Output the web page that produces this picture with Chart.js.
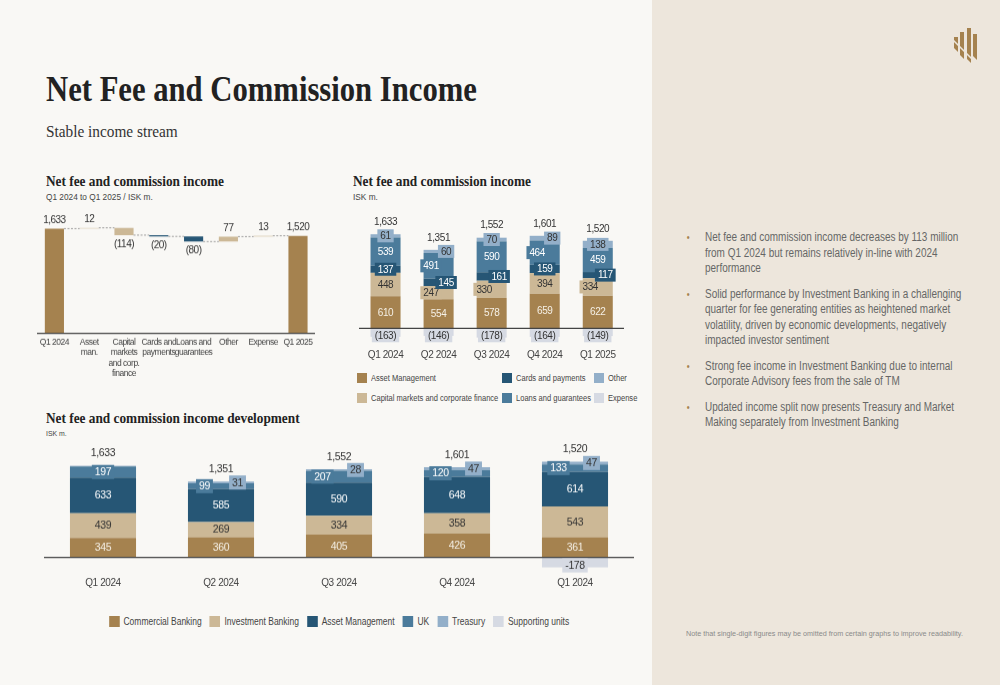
<!DOCTYPE html>
<html>
<head>
<meta charset="utf-8">
<script src="https://cdn.jsdelivr.net/npm/chart.js@4.4.1/dist/chart.umd.min.js"></script>
<style>
  body { margin: 0; width: 1000px; height: 685px; overflow: hidden; position: relative;
         background: #f9f8f5; font-family: "Liberation Sans", sans-serif; color: #444; }
  .panel { position: absolute; left: 652px; top: 0; width: 348px; height: 685px; background: #ede6dc; }
  .abs { position: absolute; }
  .serif { position: absolute; font-family: "Liberation Serif", serif; color: #222; white-space: nowrap; transform-origin: left top; }
  .small { position: absolute; font-size: 9px; color: #444; white-space: nowrap; transform-origin: left top; transform: scaleX(0.92); }
  .box { position: absolute; }
  .legend { position: absolute; font-size: 9.2px; color: #444; }
  .legend .item { position: absolute; white-space: nowrap; display: flex; align-items: center; }
  .legend .sw { width: 10px; height: 10px; margin-right: 4px; display: inline-block; }
  .legend .tx { display: inline-block; transform: scaleX(0.82); transform-origin: left center; }
  .legend2 { position: absolute; left: 44px; width: 590px; top: 616px; display: flex; justify-content: center;
             font-size: 10.4px; color: #444; transform: scaleX(0.815); transform-origin: center top; }
  .legend2 .item { display: flex; align-items: center; margin: 0 5px; white-space: nowrap; }
  .legend2 .sw { width: 13px; height: 11px; margin-right: 5px; display: inline-block; }
  .bullets { position: absolute; left: 705px; top: 230px; font-size: 12px; line-height: 15.5px; color: #666;
             white-space: nowrap; transform: scaleX(0.83); transform-origin: left top; }
  .bullets p { margin: 0 0 10px 0; position: relative; }
  .bullets p::before { content: "•"; position: absolute; left: -22px; color: #a5824f; font-size: 10px; }
  .note { position: absolute; left: 686px; top: 629px; font-size: 7.6px; color: #8a8a8a; white-space: nowrap;
          transform: scaleX(0.95); transform-origin: left top; }
</style>
</head>
<body>
<div class="panel"></div>

<svg class="abs" style="left:949px;top:24px" width="36" height="44" viewBox="0 0 36 44">
  <g fill="#a5824f">
    <polygon points="5,13 9,13 9,28 5,24"/>
    <polygon points="11,8 15,8 15,35 11,31"/>
    <polygon points="18,4 22,4 22,39 18,35"/>
    <polygon points="24,10 28,10 28,36 24,32"/>
  </g>
  <line x1="4" y1="16" x2="28" y2="40" stroke="#ede6dc" stroke-width="1.6"/>
</svg>

<div class="serif" style="left:46px;top:70px;font-size:35px;font-weight:bold;transform:scaleX(0.876)">Net Fee and Commission Income</div>
<div class="serif" style="left:46px;top:122px;font-size:17px;color:#333;transform:scaleX(0.9)">Stable income stream</div>

<div class="serif" style="left:46px;top:173px;font-size:15px;font-weight:bold;transform:scaleX(0.886)">Net fee and commission income</div>
<div class="small" style="left:46px;top:192px">Q1 2024 to Q1 2025 / ISK m.</div>

<div class="serif" style="left:353px;top:173px;font-size:15px;font-weight:bold;transform:scaleX(0.886)">Net fee and commission income</div>
<div class="small" style="left:353px;top:192px">ISK m.</div>

<div class="serif" style="left:46px;top:410px;font-size:15px;font-weight:bold;transform:scaleX(0.886)">Net fee and commission income development</div>
<div class="small" style="left:46px;top:429px;font-size:7.5px">ISK m.</div>

<div class="box" style="left:36.8px;top:205px;width:278.4px;height:179.7px"><canvas id="wf"></canvas></div>
<div class="box" style="left:359.2px;top:212.7px;width:265.3px;height:155px"><canvas id="mid"></canvas></div>
<div class="legend" id="midLegend" style="left:357px;top:373px;width:290px;height:34px"></div>
<div class="box" style="left:44px;top:439.4px;width:590px;height:154.4px"><canvas id="dev"></canvas></div>
<div class="legend2" id="devLegend"></div>

<div class="bullets">
  <p>Net fee and commission income decreases by 113 million<br>from Q1 2024 but remains relatively in-line with 2024<br>performance</p>
  <p>Solid performance by Investment Banking in a challenging<br>quarter for fee generating entities as heightened market<br>volatility, driven by economic developments, negatively<br>impacted investor sentiment</p>
  <p>Strong fee income in Investment Banking due to internal<br>Corporate Advisory fees from the sale of TM</p>
  <p>Updated income split now presents Treasury and Market<br>Making separately from Investment Banking</p>
</div>
<div class="note">Note that single-digit figures may be omitted from certain graphs to improve readability.</div>

<script>
Chart.defaults.font.family = '"Liberation Sans", sans-serif';
Chart.defaults.color = '#444';

// colours
const cBrown = '#a5824f';
const cTan = '#ccb896';
const cLightTan = '#e2d5bf';
const cNavy = '#265675';
const cSteel = '#4b7b9b';
const cSky = '#93afc9';
const cGrey = '#d6dae3';

// --- waterfall data
const wfCategories = [['Q1 2024'], ['Asset', 'man.'], ['Capital', 'markets', 'and corp.', 'finance'],
  ['Cards and', 'payments'], ['Loans and', 'guarantees'], ['Other'], ['Expense'], ['Q1 2025']];
const wfValues = [1633, 12, -114, -20, -80, 77, 13, 1520];
const wfIsTotal = [true, false, false, false, false, false, false, true];
const wfColors = [cBrown, cLightTan, cTan, cNavy, cNavy, cTan, cLightTan, cBrown];

// --- quarterly split by product
const quarters = ['Q1 2024', 'Q2 2024', 'Q3 2024', 'Q4 2024', 'Q1 2025'];
const assetMgmt = [610, 554, 578, 659, 622];
const capMarkets = [448, 247, 330, 394, 334];
const cardsPay = [137, 145, 161, 159, 117];
const loansGuar = [539, 491, 590, 464, 459];
const otherFees = [61, 60, 70, 89, 138];
const expense = [-163, -146, -178, -164, -149];
const midTotals = [1633, 1351, 1552, 1601, 1520];

// --- development by segment
const devQuarters = ['Q1 2024', 'Q2 2024', 'Q3 2024', 'Q4 2024', 'Q1 2024'];
const commercial = [345, 360, 405, 426, 361];
const investment = [439, 269, 334, 358, 543];
const devAssetMgmt = [633, 585, 590, 648, 614];
const ukFees = [197, 99, 207, 120, 133];
const treasury = [9, 31, 28, 47, 47];
const supporting = [9, 7, -9, 2, -178];
const devTotals = [1633, 1351, 1552, 1601, 1520];

const fmtNum = v => v.toLocaleString('en-US');

// narrower lettering, the original face is a condensed sans
function tightText(px) {
  return {
    id: 'tightText',
    beforeDraw(chart) { chart.ctx.letterSpacing = px; }
  };
}

// x axis with fixed height so the plot area lands where we want it
function xAxis(h, size, pad) {
  return {
    grid: { display: false, drawTicks: false }, border: { display: false },
    ticks: { font: { size: size, lineHeight: 1.2 }, color: '#444', padding: pad,
             maxRotation: 0, minRotation: 0, autoSkip: false },
    afterFit: s => { s.height = h; s.paddingLeft = 0; s.paddingRight = 0; }
  };
}

function zeroLine(ext) {
  return {
    id: 'zeroLine',
    afterDatasetsDraw(chart) {
      const { ctx, chartArea } = chart;
      const y = chart.scales.y.getPixelForValue(0);
      ctx.save();
      ctx.strokeStyle = '#444';
      ctx.lineWidth = 1.3;
      ctx.beginPath();
      ctx.moveTo(chartArea.left - ext, y);
      ctx.lineTo(chartArea.right + ext, y);
      ctx.stroke();
      ctx.restore();
    }
  };
}

// segment labels for stacked bars
function segLabels(cfg) {
  return {
    id: 'segLabels',
    afterDatasetsDraw(chart) {
      const ctx = chart.ctx;
      ctx.save();
      ctx.font = cfg.size + 'px ' + Chart.defaults.font.family;
      ctx.textAlign = 'center';
      ctx.textBaseline = 'middle';
      chart.data.datasets.forEach((ds, di) => {
        const meta = chart.getDatasetMeta(di);
        meta.data.forEach((bar, i) => {
          const v = ds.data[i];
          if (v == null || Math.abs(v) < 10) return;
          const txt = v < 0 ? cfg.neg(v) : fmtNum(v);
          const top = Math.min(bar.y, bar.base), bot = Math.max(bar.y, bar.base);
          const shift = (cfg.shifts[di] || [])[i] || 0;
          const x = bar.x + shift * bar.width * 0.25;
          let y = (top + bot) / 2;
          if (v < 0) y = Math.max(y, top + cfg.boxH / 2 + 1);
          const tw = ctx.measureText(txt).width;
          if (bot - top < cfg.boxH || shift) {
            ctx.fillStyle = ds.backgroundColor;
            ctx.fillRect(x - tw / 2 - 3, y - cfg.boxH / 2, tw + 6, cfg.boxH);
          }
          ctx.fillStyle = cfg.colors[di];
          ctx.fillText(txt, x, y + 0.5);
        });
      });
      // totals on top
      ctx.fillStyle = '#333';
      cfg.totals.forEach((t, i) => {
        let top = Infinity;
        chart.data.datasets.forEach((ds, di) => {
          if (ds.data[i] > 0) top = Math.min(top, chart.getDatasetMeta(di).data[i].y);
        });
        const x = chart.getDatasetMeta(0).data[i].x;
        ctx.fillText(fmtNum(t), x, top - 12);
      });
      ctx.restore();
    }
  };
}

// --- chart 1: waterfall
let run = 0;
const wfBars = wfValues.map((v, i) => {
  if (wfIsTotal[i]) { run = v; return [0, v]; }
  const r = [run, run + v];
  run += v;
  return r;
});

const wfDecor = {
  id: 'wfDecor',
  afterDatasetsDraw(chart) {
    const ctx = chart.ctx;
    const meta = chart.getDatasetMeta(0);
    const ys = chart.scales.y;
    ctx.save();
    // dashed connectors
    ctx.strokeStyle = '#888';
    ctx.lineWidth = 0.8;
    ctx.setLineDash([2, 1.5]);
    for (let i = 0; i < meta.data.length - 1; i++) {
      const a = meta.data[i], b = meta.data[i + 1];
      const y = ys.getPixelForValue(wfBars[i][1]);
      ctx.beginPath();
      ctx.moveTo(a.x + a.width / 2, y);
      ctx.lineTo(b.x - b.width / 2, y);
      ctx.stroke();
    }
    ctx.setLineDash([]);
    // value labels
    ctx.font = '10px ' + Chart.defaults.font.family;
    ctx.fillStyle = '#333';
    ctx.textAlign = 'center';
    ctx.textBaseline = 'middle';
    meta.data.forEach((bar, i) => {
      const v = wfValues[i];
      const top = Math.min(bar.y, bar.base), bot = Math.max(bar.y, bar.base);
      if (v < 0) ctx.fillText('(' + fmtNum(-v) + ')', bar.x, bot + 9);
      else ctx.fillText(fmtNum(v), bar.x, top - 8);
    });
    ctx.restore();
  }
};

new Chart(document.getElementById('wf'), {
  type: 'bar',
  data: {
    labels: wfCategories,
    datasets: [{ data: wfBars, backgroundColor: wfColors, borderWidth: 0,
                 categoryPercentage: 1, barPercentage: 0.55 }]
  },
  options: {
    responsive: true, maintainAspectRatio: false, animation: false,
    layout: { padding: 0 },
    plugins: { legend: { display: false }, tooltip: { enabled: false } },
    scales: {
      x: xAxis(52, 8.5, 4),
      y: { display: false, min: 0, max: 2000 }
    }
  },
  plugins: [tightText('-0.5px'), wfDecor, zeroLine(1)]
});

// --- chart 2: stacked by product
const midNames = ['Asset Management', 'Capital markets and corporate finance', 'Cards and payments',
  'Loans and guarantees', 'Other', 'Expense'];
const midSeries = [assetMgmt, capMarkets, cardsPay, loansGuar, otherFees, expense];
const midColors = [cBrown, cTan, cNavy, cSteel, cSky, cGrey];

new Chart(document.getElementById('mid'), {
  type: 'bar',
  data: {
    labels: quarters,
    datasets: midSeries.map((s, k) => ({
      label: midNames[k], data: s, backgroundColor: midColors[k], borderWidth: 0,
      stack: 'a', categoryPercentage: 1, barPercentage: 0.566
    }))
  },
  options: {
    responsive: true, maintainAspectRatio: false, animation: false,
    layout: { padding: 0 },
    plugins: { legend: { display: false }, tooltip: { enabled: false } },
    scales: {
      x: Object.assign(xAxis(24, 10, 5), { stacked: true }),
      y: { display: false, stacked: true, min: -300, max: 2200 }
    }
  },
  plugins: [tightText('-0.4px'), zeroLine(4), segLabels({
    size: 10, boxH: 13, totals: midTotals,
    neg: v => '(' + fmtNum(-v) + ')',
    colors: ['#f5f0e6', '#333', '#fff', '#fff', '#333', '#333'],
    shifts: [[], [0, -1, -1, 0, -1], [0, 1, 1, 0, 1], [0, -1, 0, -1, 0], [0, 1, 0, 1, 0], []]
  })]
});

// legend for chart 2 (3 columns x 2 rows)
const midLegendPos = [[0, 0], [0, 20], [145, 0], [145, 20], [237, 0], [237, 20]];
const midLegend = document.getElementById('midLegend');
midNames.forEach((n, k) => {
  const d = document.createElement('div');
  d.className = 'item';
  d.style.left = midLegendPos[k][0] + 'px';
  d.style.top = midLegendPos[k][1] + 'px';
  d.innerHTML = '<span class="sw" style="background:' + midColors[k] + '"></span><span class="tx">' + n + '</span>';
  midLegend.appendChild(d);
});

// --- chart 3: development by segment
const devNames = ['Commercial Banking', 'Investment Banking', 'Asset Management', 'UK', 'Treasury', 'Supporting units'];
const devSeries = [commercial, investment, devAssetMgmt, ukFees, treasury, supporting];
const devColors = [cBrown, cTan, cNavy, cSteel, cSky, cGrey];

new Chart(document.getElementById('dev'), {
  type: 'bar',
  data: {
    labels: devQuarters,
    datasets: devSeries.map((s, k) => ({
      label: devNames[k], data: s, backgroundColor: devColors[k], borderWidth: 0,
      stack: 'a', categoryPercentage: 1, barPercentage: 0.56
    }))
  },
  options: {
    responsive: true, maintainAspectRatio: false, animation: false,
    layout: { padding: 0 },
    plugins: { legend: { display: false }, tooltip: { enabled: false } },
    scales: {
      x: Object.assign(xAxis(20, 10, 3), { stacked: true }),
      y: { display: false, stacked: true, min: -300, max: 2100 }
    }
  },
  plugins: [tightText('-0.4px'), zeroLine(1), segLabels({
    size: 10.5, boxH: 14, totals: devTotals,
    neg: v => String(v),
    colors: ['#f5f0e6', '#333', '#fff', '#fff', '#333', '#333'],
    shifts: [[], [], [], [0, -1, -1, -1, -1], [0, 1, 1, 1, 1], []]
  })]
});

const devLegend = document.getElementById('devLegend');
devNames.forEach((n, k) => {
  const d = document.createElement('div');
  d.className = 'item';
  d.innerHTML = '<span class="sw" style="background:' + devColors[k] + '"></span>' + n;
  devLegend.appendChild(d);
});
</script>
</body>
</html>
